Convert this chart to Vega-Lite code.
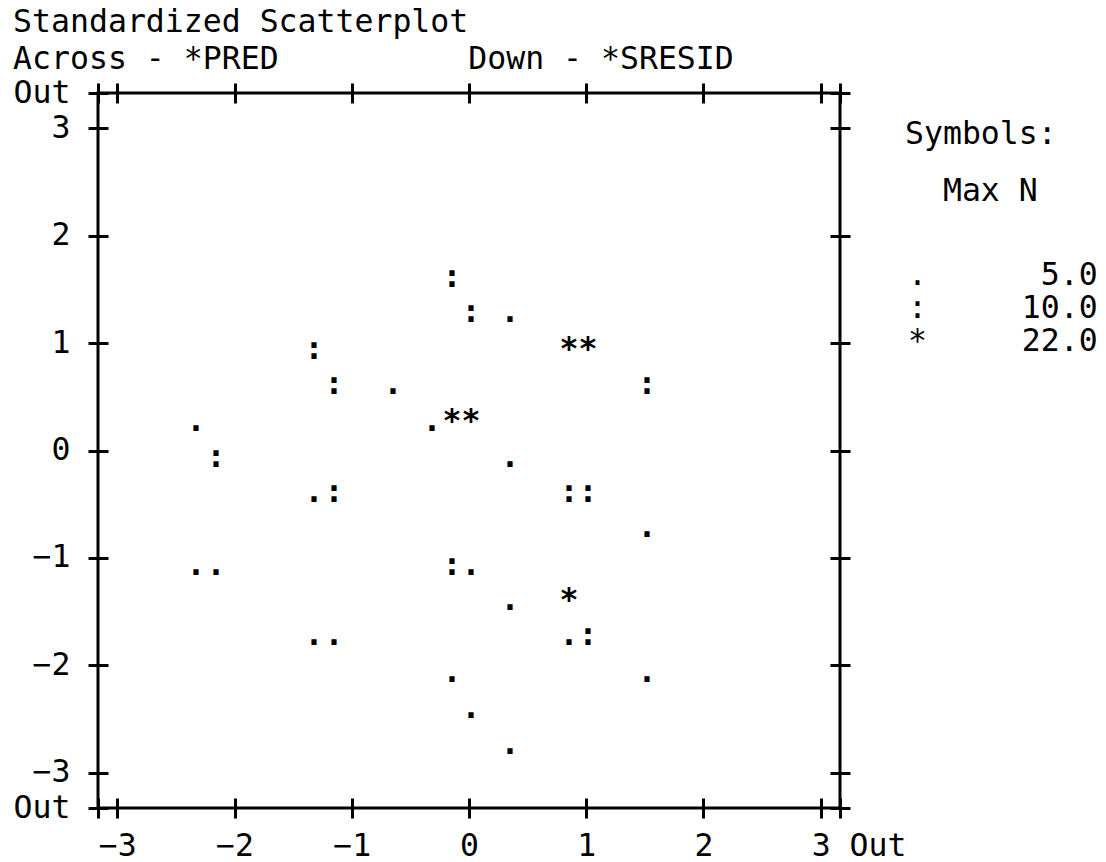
{
  "$schema": "https://vega.github.io/schema/vega-lite/v6.json",
  "autosize": "none",
  "padding": {"left": 98, "top": 93, "right": 266, "bottom": 54},
  "width": 742,
  "height": 715,
  "background": "white",
  "config": {
    "view": {"stroke": "black", "strokeWidth": 3},
    "font": "DejaVu Sans Mono",
    "axis": {"labelOverlap": false, "labelSeparation": -100}
  },
  "title": {
    "text": ["Standardized Scatterplot", "Across - *PRED\u00a0\u00a0\u00a0\u00a0\u00a0\u00a0\u00a0\u00a0\u00a0\u00a0Down - *SRESID"],
    "anchor": "start",
    "frame": "bounds",
    "font": "DejaVu Sans Mono",
    "fontSize": 31.5,
    "fontWeight": "normal",
    "lineHeight": 37,
    "offset": 2,
    "color": "black"
  },
  "data": {
    "values": [
      {"x": -0.145, "y": 1.547, "s": ":"},
      {"x": 0.017, "y": 1.221, "s": ":"},
      {"x": 0.350, "y": 1.221, "s": "."},
      {"x": -1.322, "y": 0.876, "s": ":"},
      {"x": 0.853, "y": 0.876, "s": "*"},
      {"x": 1.015, "y": 0.876, "s": "*"},
      {"x": -1.152, "y": 0.545, "s": ":"},
      {"x": -0.648, "y": 0.545, "s": "."},
      {"x": 1.518, "y": 0.545, "s": ":"},
      {"x": -2.329, "y": 0.205, "s": "."},
      {"x": -0.316, "y": 0.205, "s": "."},
      {"x": -0.145, "y": 0.205, "s": "*"},
      {"x": 0.017, "y": 0.205, "s": "*"},
      {"x": -2.158, "y": -0.135, "s": ":"},
      {"x": 0.350, "y": -0.135, "s": "."},
      {"x": -1.322, "y": -0.457, "s": "."},
      {"x": -1.152, "y": -0.457, "s": ":"},
      {"x": 0.853, "y": -0.457, "s": ":"},
      {"x": 1.015, "y": -0.457, "s": ":"},
      {"x": 1.518, "y": -0.783, "s": "."},
      {"x": -2.329, "y": -1.137, "s": "."},
      {"x": -2.158, "y": -1.137, "s": "."},
      {"x": -0.145, "y": -1.137, "s": ":"},
      {"x": 0.017, "y": -1.137, "s": "."},
      {"x": 0.350, "y": -1.463, "s": "."},
      {"x": 0.853, "y": -1.463, "s": "*"},
      {"x": -1.322, "y": -1.789, "s": "."},
      {"x": -1.152, "y": -1.789, "s": "."},
      {"x": 0.853, "y": -1.789, "s": "."},
      {"x": 1.015, "y": -1.789, "s": ":"},
      {"x": -0.145, "y": -2.134, "s": "."},
      {"x": 1.518, "y": -2.134, "s": "."},
      {"x": 0.017, "y": -2.470, "s": "."},
      {"x": 0.350, "y": -2.805, "s": "."}
    ]
  },
  "layer": [
    {
      "mark": {"type": "text", "font": "DejaVu Sans Mono", "fontSize": 31.5, "fontWeight": "bold", "align": "center", "baseline": "alphabetic", "dy": 2.4},
      "encoding": {
        "x": {
          "field": "x", "type": "quantitative",
          "scale": {"domain": [-3.165, 3.165], "nice": false, "zero": false},
          "axis": {
            "orient": "bottom", "title": null, "grid": false, "domain": false,
            "values": [-3.165, -3, -2, -1, 0, 1, 2, 3, 3.165],
            "tickCount": 30,
            "labelExpr": "datum.value < -3.1 ? '' : (datum.value > 3.1 ? 'Out' : format(datum.value, 'd'))",
            "labelAlign": {"condition": {"test": "datum.value > 3.1", "value": "left"}, "value": "center"},
            "labelOffset": {"condition": {"test": "datum.value > 3.1", "value": 9}, "value": 0},
            "offset": -10, "tickSize": 20, "tickWidth": 3, "tickColor": "black",
            "labelFont": "DejaVu Sans Mono", "labelFontSize": 31.5, "labelColor": "black",
            "labelPadding": 12, "labelFlush": false, "labelOverlap": false, "labelSeparation": -100, "labelBound": false
          }
        },
        "y": {
          "field": "y", "type": "quantitative",
          "scale": {"domain": [-3.33, 3.33], "nice": false, "zero": false},
          "axis": {
            "orient": "left", "title": null, "grid": false, "domain": false,
            "values": [-3.33, -3, -2, -1, 0, 1, 2, 3, 3.33],
            "tickCount": 30,
            "labelExpr": "abs(datum.value) > 3.1 ? 'Out' : format(datum.value, 'd')",
            "offset": -10, "tickSize": 20, "tickWidth": 3, "tickColor": "black",
            "labelFont": "DejaVu Sans Mono", "labelFontSize": 31.5, "labelColor": "black",
            "labelPadding": 18, "labelFlush": false, "labelOverlap": false, "labelSeparation": -100, "labelBound": false
          }
        },
        "text": {"field": "s"},
        "color": {
          "field": "s", "type": "nominal",
          "scale": {"domain": [".", ":", "*"], "range": ["black", "black", "black"]},
          "legend": {
            "orient": "none", "legendX": 807, "legendY": 26, "padding": 0,
            "title": ["Symbols:", "\u200b", "\u200b\u00a0\u00a0Max N"],
            "titleFont": "DejaVu Sans Mono", "titleFontSize": 31.5, "titleFontWeight": "normal",
            "titleColor": "black", "titleLineHeight": 28.5, "titlePadding": 53,
            "labelFont": "DejaVu Sans Mono", "labelFontSize": 31.5, "labelColor": "black",
            "labelLimit": 400, "labelOffset": -28.5, "rowPadding": 0,
            "symbolOpacity": 0, "symbolStrokeWidth": 0,
            "labelExpr": "datum.label == '.' ? '.\u00a0\u00a0\u00a0\u00a0\u00a0\u00a05.0' : (datum.label == ':' ? ':\u00a0\u00a0\u00a0\u00a0\u00a010.0' : '*\u00a0\u00a0\u00a0\u00a0\u00a022.0')"
          }
        }
      }
    },
    {
      "mark": {"type": "point", "opacity": 0},
      "encoding": {
        "x": {
          "field": "x", "type": "quantitative",
          "scale": {"domain": [-3.165, 3.165], "nice": false, "zero": false},
          "axis": {
            "orient": "top", "title": null, "grid": false, "domain": false, "labels": false,
            "values": [-3.165, -3, -2, -1, 0, 1, 2, 3, 3.165],
            "tickCount": 30,
            "offset": -10, "tickSize": 20, "tickWidth": 3, "tickColor": "black"
          }
        },
        "y": {
          "field": "y", "type": "quantitative",
          "scale": {"domain": [-3.33, 3.33], "nice": false, "zero": false},
          "axis": {
            "orient": "right", "title": null, "grid": false, "domain": false, "labels": false,
            "values": [-3.33, -3, -2, -1, 0, 1, 2, 3, 3.33],
            "tickCount": 30,
            "offset": -10, "tickSize": 20, "tickWidth": 3, "tickColor": "black"
          }
        }
      }
    }
  ],
  "resolve": {
    "scale": {"x": "independent", "y": "independent"},
    "axis": {"x": "independent", "y": "independent"}
  }
}
